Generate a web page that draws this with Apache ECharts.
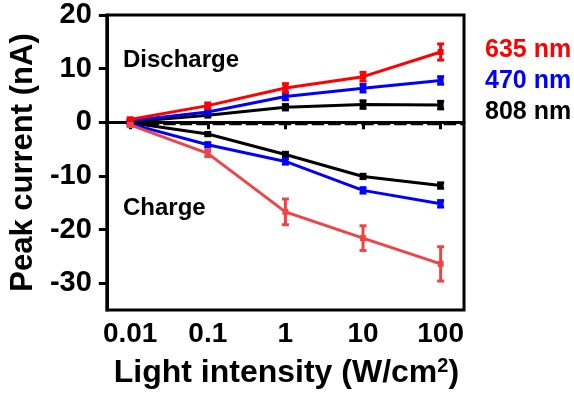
<!DOCTYPE html>
<html><head><meta charset="utf-8">
<script src="https://cdn.jsdelivr.net/npm/echarts@6/dist/echarts.min.js"></script>
<style>html,body{margin:0;padding:0;background:#fff}#c{width:574px;height:394px}</style>
</head><body><div id="c"></div>
<script>
var intensity = [0.01, 0.1, 1, 10, 100];
var dis635 = [0.5, 3.1, 6.4, 8.5, 13.1];
var dis635Err = [0.3, 0.5, 0.8, 0.8, 1.5];
var dis470 = [0.3, 1.9, 4.8, 6.35, 7.8];
var dis470Err = [0.2, 0.4, 0.6, 0.7, 0.7];
var dis808 = [0.1, 1.3, 2.8, 3.3, 3.2];
var dis808Err = [0.2, 0.3, 0.5, 0.7, 0.7];
var chg808 = [-0.1, -2.2, -6.0, -10.1, -11.8];
var chg808Err = [0.2, 0.3, 0.4, 0.4, 0.5];
var chg470 = [-0.3, -4.2, -7.3, -12.7, -15.2];
var chg470Err = [0.2, 0.4, 0.5, 0.5, 0.6];
var chg635 = [-0.5, -5.8, -16.7, -21.6, -26.4];
var chg635Err = [0.3, 0.6, 2.4, 2.3, 3.2];
var zeroLine = [[0.01, -0.22], [200, -0.22]];
var xTicks = [0.01, 0.1, 1, 10, 100];
var yTicks = [-30, -20, -10, 0, 10, 20];
var legendLabels = ['635 nm', '470 nm', '808 nm'];

var FONT = 'Arial, "Liberation Sans", sans-serif';
function pairs(ys){ return intensity.map(function(x,i){ return [x, ys[i]]; }); }
function lineSeries(name, ys, color, z){
  return { name:name, type:'line', data:pairs(ys), symbol:'rect', symbolSize:6,
    lineStyle:{color:color, width:3}, itemStyle:{color:color}, z:z, animation:false };
}
function errSeries(ys, errs, color, z){
  var d = intensity.map(function(x,i){ return [x, ys[i], errs[i]]; });
  return { type:'custom', data:d, z:z, animation:false,
    renderItem:function(params, api){
      var x = api.value(0), y = api.value(1), e = api.value(2);
      var top = api.coord([x, y + e]), bot = api.coord([x, y - e]);
      var w = 3.5;
      var st = {stroke:color, lineWidth:3};
      return {type:'group', children:[
        {type:'line', shape:{x1:top[0], y1:top[1], x2:bot[0], y2:bot[1]}, style:st},
        {type:'line', shape:{x1:top[0]-w, y1:top[1], x2:top[0]+w, y2:top[1]}, style:st},
        {type:'line', shape:{x1:bot[0]-w, y1:bot[1], x2:bot[0]+w, y2:bot[1]}, style:st}
      ]};
    }
  };
}
var RED = '#ff0000', RED2 = '#f04444', BLUE = '#0000ff', BLACK = '#000000';
var chart = echarts.init(document.getElementById('c'));
chart.setOption({
  animation:false,
  grid:{left:96, right:110, top:15, bottom:81, show:true, borderColor:'#000', borderWidth:3, backgroundColor:'transparent'},
  xAxis:{ type:'log', min:0.005, max:200, logBase:10,
    axisLine:{lineStyle:{color:'#000', width:3}},
    axisTick:{customValues:xTicks, length:7, lineStyle:{color:'#000', width:3}},
    axisLabel:{customValues:xTicks, margin:10, color:'#000', fontFamily:FONT, fontWeight:'bold', fontSize:28,
      formatter:function(v){ return String(v); }},
    splitLine:{show:false},
    name:'Light intensity (W/cm{sup|2})', nameLocation:'middle', nameGap:46,
    nameTextStyle:{color:'#000', fontFamily:FONT, fontWeight:'bold', fontSize:32, padding:[0,0,0,2],
      rich:{sup:{fontSize:20, fontFamily:FONT, fontWeight:'bold', color:'#000', verticalAlign:'top', padding:[0,0,14,0]}}}
  },
  yAxis:{ type:'value', min:-35, max:20,
    axisLine:{lineStyle:{color:'#000', width:3}},
    axisTick:{customValues:yTicks, length:8, lineStyle:{color:'#000', width:3}},
    axisLabel:{customValues:yTicks, margin:15, color:'#000', fontFamily:FONT, fontWeight:'bold', fontSize:29},
    splitLine:{show:false},
    name:'Peak current (nA)', nameLocation:'middle', nameGap:64,
    nameTextStyle:{color:'#000', fontFamily:FONT, fontWeight:'bold', fontSize:31}
  },
  series:[
    { type:'line', data:zeroLine, symbol:'none', lineStyle:{color:'#000', width:3.5, type:[12.5, 4]}, z:1, animation:false },
    lineSeries('808 dis', dis808, BLACK, 3), errSeries(dis808, dis808Err, BLACK, 3),
    lineSeries('470 dis', dis470, BLUE, 4), errSeries(dis470, dis470Err, BLUE, 4),
    lineSeries('635 dis', dis635, RED, 5), errSeries(dis635, dis635Err, RED, 5),
    lineSeries('808 chg', chg808, BLACK, 3), errSeries(chg808, chg808Err, BLACK, 3),
    lineSeries('470 chg', chg470, BLUE, 4), errSeries(chg470, chg470Err, BLUE, 4),
    lineSeries('635 chg', chg635, RED2, 5), errSeries(chg635, chg635Err, RED2, 5)
  ],
  graphic:[
    {type:'text', left:123, top:48, style:{text:'Discharge', font:'bold 24px '+FONT, fill:'#000'}},
    {type:'text', left:123, top:196, style:{text:'Charge', font:'bold 24px '+FONT, fill:'#000'}},
    {type:'text', left:485, top:38, style:{text:legendLabels[0], font:'bold 25px '+FONT, fill:RED}},
    {type:'text', left:485, top:69, style:{text:legendLabels[1], font:'bold 25px '+FONT, fill:BLUE}},
    {type:'text', left:485, top:100, style:{text:legendLabels[2], font:'bold 25px '+FONT, fill:BLACK}}
  ]
});
</script></body></html>
